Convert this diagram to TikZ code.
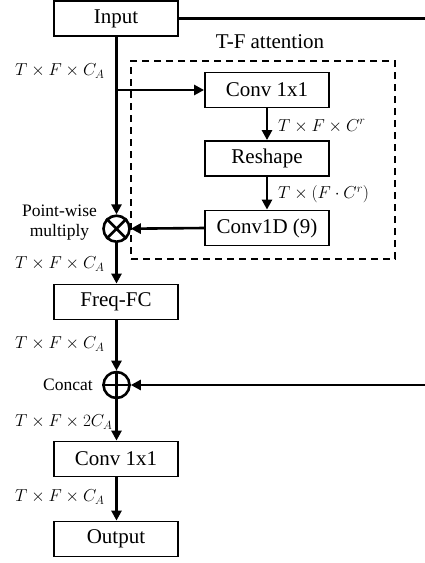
\documentclass[tikz,border=0pt]{standalone}
\usepackage{fontspec}
\setmainfont{Liberation Serif}
\usetikzlibrary{arrows.meta}
\begin{document}
\begin{tikzpicture}[x=1pt,y=-1pt,
  box/.style={draw, line width=1.8pt, minimum width=124pt, minimum height=35pt, inner sep=0pt, font=\rmfamily\fontsize{21}{25}\selectfont},
  conn/.style={line width=2.6pt, -{Triangle[length=10pt,width=10pt]}},
  plain/.style={line width=2.6pt},
  lab/.style={font=\fontsize{17}{20}\selectfont, inner sep=0pt},
  small/.style={font=\rmfamily\fontsize{17.5}{20}\selectfont, inner sep=0pt, align=center},
  op/.style={circle, draw, line width=2.6pt, minimum size=26pt, inner sep=0pt}]
\useasboundingbox (0,0) rectangle (425,563);
% dashed T-F attention frame
\node[draw, dashed, dash pattern=on 7pt off 5pt, line width=1.5pt, minimum width=264pt, minimum height=198pt, inner sep=0pt] (tf) at (263,160) {};
\node[font=\rmfamily\fontsize{21}{25}\selectfont, inner sep=0pt] (tftitle) at (270,42) {T-F attention};
% nodes
\node[box] (in) at (116,18.5) {Input};
\node[box] (c1) at (267,90) {Conv 1x1};
\node[box] (rs) at (267,158.5) {Reshape};
\node[box] (cd) at (267,228) {Conv1D (9)};
\node[op] (mul) at (116.5,228.7) {};
\draw[line width=2.6pt] (mul.north west) -- (mul.south east) (mul.north east) -- (mul.south west);
\node[box] (ff) at (116,302) {Freq-FC};
\node[op] (cat) at (116.5,385) {};
\draw[line width=2.6pt] (cat.north) -- (cat.south) (cat.west) -- (cat.east);
\node[box] (c2) at (116,459) {Conv 1x1};
\node[box] (out) at (116,539) {Output};
\coordinate (re1) at (425,18.5);
\coordinate (re2) at (425,385);
\coordinate (br) at (116.5,90);
% connectors
\draw[plain] (in.east) -- (re1);
\draw[conn] (in.south -| mul.north) -- (mul.north);
\draw[conn] (br) -- (c1.west);
\draw[conn] (c1) -- (rs);
\draw[conn] (rs) -- (cd);
\draw[conn] (cd.west) -- (mul.east);
\draw[conn] (mul.south) -- (ff.north -| mul.south);
\draw[conn] (ff.south -| cat.north) -- (cat.north);
\draw[conn] (re2) -- (cat.east);
\draw[conn] (cat.south) -- (c2.north -| cat.south);
\draw[conn] (c2.south -| cat.south) -- (out.north -| cat.south);
% labels
\node[lab, anchor=west] (l1) at (15,71) {$T\times F\times C_A$};
\node[lab, anchor=west] (l2) at (278,126) {$T\times F\times C^r$};
\node[lab, anchor=west] (l3) at (278,194) {$T\times (F\cdot C^r)$};
\node[small] (pw) at (59.5,223) {Point-wise\\multiply};
\node[lab, anchor=west] (l4) at (15,264) {$T\times F\times C_A$};
\node[lab, anchor=west] (l5) at (15,344) {$T\times F\times C_A$};
\node[small, anchor=east] (cc) at (93,385) {Concat};
\node[lab, anchor=west] (l6) at (15,422) {$T\times F\times 2C_A$};
\node[lab, anchor=west] (l7) at (15,497) {$T\times F\times C_A$};
\end{tikzpicture}
\end{document}
